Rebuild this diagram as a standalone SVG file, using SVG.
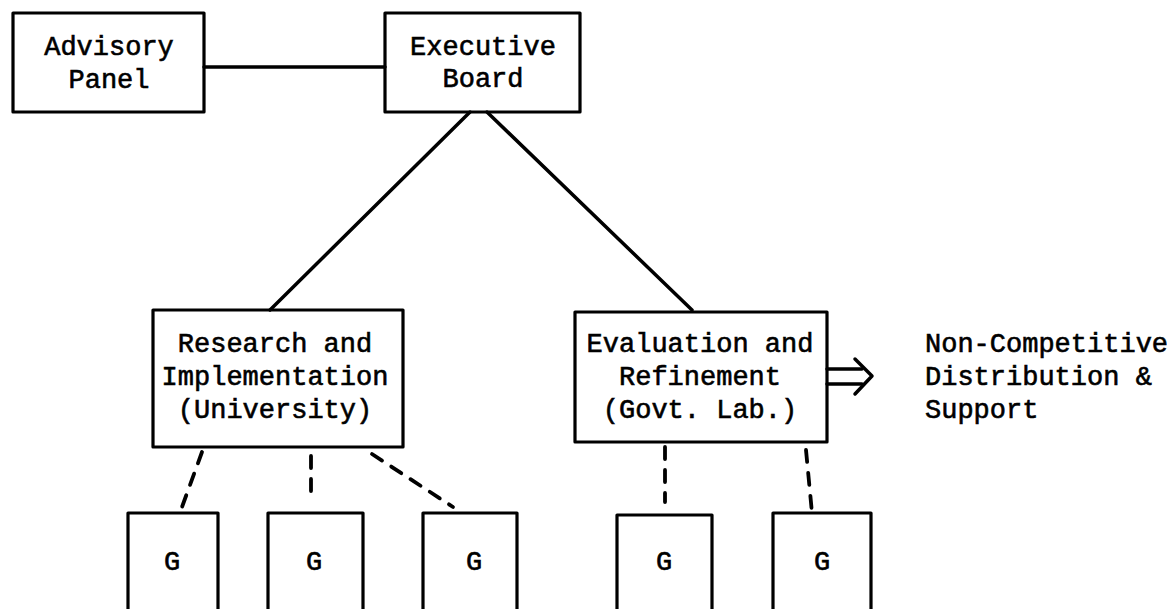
<svg xmlns="http://www.w3.org/2000/svg" width="1167" height="609" viewBox="0 0 1167 609">
<style>
.box{fill:none;stroke:#000;stroke-width:3.2;stroke-linejoin:round}
.t{font-family:"Liberation Mono","DejaVu Sans Mono",monospace;font-size:27px;fill:#000;stroke:#000;stroke-width:0.6;text-anchor:middle}
.tl{text-anchor:start}
.ln{fill:none;stroke:#000;stroke-width:3.5;stroke-linecap:round;stroke-linejoin:round}
.dash{fill:none;stroke:#000;stroke-width:3.8;stroke-linecap:round;stroke-dasharray:12 11}
</style>
<rect width="1167" height="609" fill="#fff"/>
<g id="connectors">
<line class="ln" x1="204" y1="67" x2="385" y2="67"/>
<line class="ln" x1="470" y1="112" x2="270" y2="310"/>
<line class="ln" x1="487" y1="112" x2="692" y2="310"/>
<line class="dash" x1="202" y1="452" x2="182" y2="507"/>
<line class="dash" x1="311" y1="456" x2="311" y2="502"/>
<line class="dash" x1="372" y1="454" x2="453" y2="507"/>
<line class="dash" x1="665" y1="447" x2="665" y2="502"/>
<line class="dash" x1="806" y1="450" x2="812" y2="513" stroke-dasharray="13 10"/>
<g id="arrow">
<line class="ln" x1="827" y1="369" x2="862" y2="369"/>
<line class="ln" x1="827" y1="384" x2="862" y2="384"/>
<polyline class="ln" points="855,359 872,376 855,394"/>
</g>
</g>
<g id="advisory">
<rect class="box" x="13" y="13" width="191" height="99"/>
<text class="t" x="109" y="55">Advisory</text>
<text class="t" x="109" y="88">Panel</text>
</g>
<g id="executive">
<rect class="box" x="385" y="13" width="195" height="99"/>
<text class="t" x="483" y="55">Executive</text>
<text class="t" x="483" y="87">Board</text>
</g>
<g id="research">
<rect class="box" x="153" y="310" width="250" height="137"/>
<text class="t" x="275" y="352">Research and</text>
<text class="t" x="275" y="385">Implementation</text>
<text class="t" x="275" y="418">(University)</text>
</g>
<g id="evaluation">
<rect class="box" x="575" y="312" width="252" height="130"/>
<text class="t" x="700" y="352">Evaluation and</text>
<text class="t" x="700" y="385">Refinement</text>
<text class="t" x="700" y="418">(Govt. Lab.)</text>
</g>
<g id="distribution">
<text class="t tl" x="925" y="352">Non-Competitive</text>
<text class="t tl" x="925" y="385">Distribution &amp;</text>
<text class="t tl" x="925" y="418">Support</text>
</g>
<g id="g1">
<rect class="box" x="128" y="513" width="90" height="110"/>
<text class="t" x="172" y="570">G</text>
</g>
<g id="g2">
<rect class="box" x="268" y="513" width="95" height="110"/>
<text class="t" x="314" y="570">G</text>
</g>
<g id="g3">
<rect class="box" x="423" y="513" width="94" height="110"/>
<text class="t" x="474" y="570">G</text>
</g>
<g id="g4">
<rect class="box" x="617" y="515" width="95" height="110"/>
<text class="t" x="664" y="570">G</text>
</g>
<g id="g5">
<rect class="box" x="773" y="513" width="98" height="110"/>
<text class="t" x="822" y="570">G</text>
</g>
</svg>
